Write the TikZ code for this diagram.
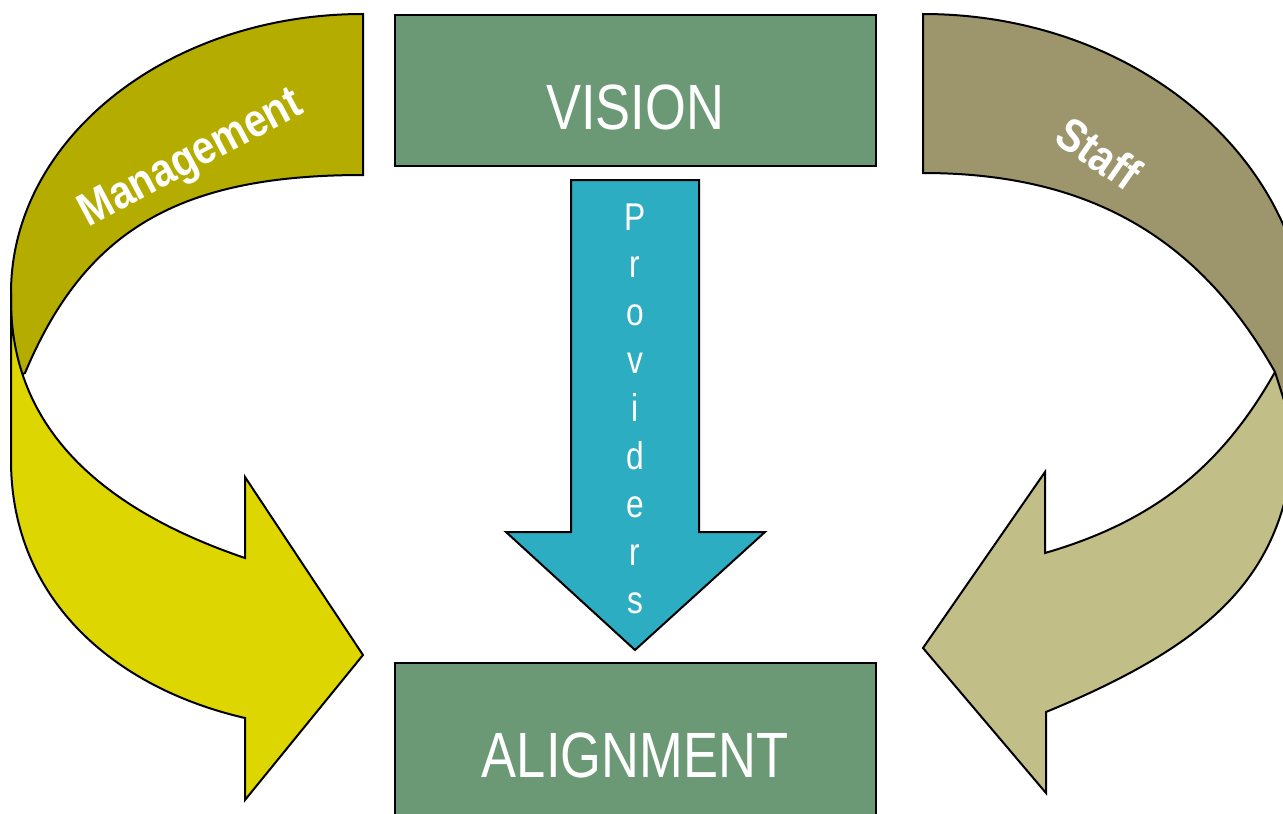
\documentclass[tikz,border=0pt]{standalone}
\usepackage{fontspec}
\setmainfont{Liberation Sans}
\newfontfamily\narrowfont[FakeStretch=0.82]{Liberation Sans}
\newfontfamily\bandfont[FakeStretch=0.86]{Liberation Sans}
\definecolor{mgmtdark}{HTML}{B4AD00}
\definecolor{mgmtlight}{HTML}{DED600}
\definecolor{staffdark}{HTML}{9D966C}
\definecolor{stafflight}{HTML}{C2BE88}
\definecolor{boxgreen}{HTML}{6B9976}
\definecolor{provcyan}{HTML}{2DADC1}
\tikzset{
  outlined/.style={draw=black, line width=1.5pt, line join=miter},
  boxtext/.style={text=white, font=\narrowfont\fontsize{48}{50}\selectfont, inner sep=0pt},
  provtext/.style={text=white, font=\narrowfont\fontsize{29}{30}\selectfont, inner sep=0pt, anchor=base},
  bandtext/.style={text=white, font=\bandfont\bfseries\fontsize{35}{36}\selectfont, inner sep=0pt}
}
\begin{document}
\begin{tikzpicture}[x=0.75pt,y=-0.75pt]
\useasboundingbox (0,0) rectangle (1283,814);
\clip (0,0) rectangle (1283,814);
\fill[white] (0,0) rectangle (1283,814);

% Management curved arrow: back band then front part
\filldraw[outlined, fill=mgmtdark] (363,14) .. controls (168,14) and (11,139) .. (11,293)
  -- (11,380) -- (25,373) .. controls (85,230) and (179,175) .. (363,175) -- cycle;
\filldraw[outlined, fill=mgmtlight] (11,293) -- (11,460) .. controls (11,600) and (115,688) .. (245,718)
  -- (245,800) -- (363,655) -- (245,477) -- (245,558)
  .. controls (89,505) and (11,419) .. (11,300) -- cycle;

% Staff curved arrow: front part then back band on top
\filldraw[outlined, fill=stafflight] (923,648) -- (1045,472) -- (1045,553)
  .. controls (1152,522) and (1221,468) .. (1275,372) -- (1330,300) -- (1330,400) -- (1296,400)
  .. controls (1296,555) and (1240,632) .. (1046,712) -- (1046,793) -- cycle;
\filldraw[outlined, fill=staffdark] (923,14) .. controls (1136,14) and (1308,160) .. (1308,340)
  -- (1308,445) -- (1297,441) -- (1275,372) .. controls (1201,241) and (1093,173) .. (923,173) -- cycle;

% Boxes
\filldraw[outlined, fill=boxgreen] (395,15) rectangle (876,166);
\filldraw[outlined, fill=boxgreen] (395,663) rectangle (876,830);

% Providers arrow
\filldraw[outlined, fill=provcyan] (571,180) -- (699,180) -- (699,532) -- (765,532)
  -- (635,650) -- (506,532) -- (571,532) -- cycle;

% Texts
\node[boxtext, anchor=base] (vision) at (635,129) {VISION};
\node[boxtext, anchor=base] (alignment) at (635,777) {ALIGNMENT};
\node[bandtext, anchor=base, rotate=28] (management) at (197,170) {Management};
\node[bandtext, anchor=center, rotate=-35] (staff) at (1099,153) {Staff};
\foreach \ch [count=\i from 0] in {P,r,o,v,i,d,e,r,s} {
  \node[provtext] (prov\i) at (635,{230+47.9*\i}) {\ch};
}
\end{tikzpicture}
\end{document}
